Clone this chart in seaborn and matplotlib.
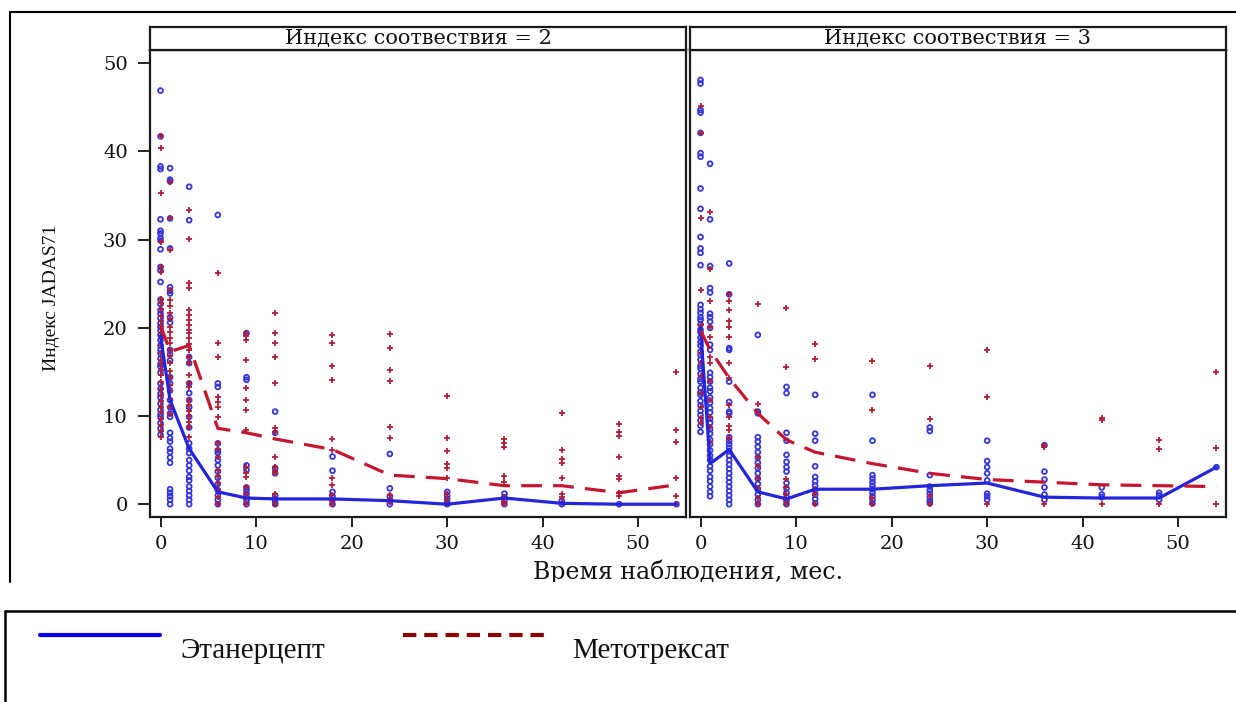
import warnings

import matplotlib

matplotlib.use("Agg")
import matplotlib.pyplot as plt
import pandas as pd
import seaborn as sns
from matplotlib.lines import Line2D
from matplotlib.transforms import Bbox

warnings.filterwarnings("ignore")

# months of follow-up (shared x positions)
times = [0, 1, 3, 6, 9, 12, 18, 24, 30, 36, 42, 48, 54]

# JADAS71 per visit, index of correspondence = 2
eta2_points = [
    [46.9, 41.7, 38.3, 38.0, 32.3, 31.0, 30.7, 30.2, 29.9, 28.9, 26.9, 26.5, 25.2, 23.2,
     22.7, 22.0, 21.6, 21.1, 20.5, 20.1, 19.7, 19.2, 18.6, 18.0, 17.5, 17.1, 16.5, 15.9,
     15.6, 14.9, 13.7, 13.1, 12.5, 12.1, 11.4, 10.7, 10.2, 9.9, 9.2, 8.6, 7.9],
    [38.1, 36.8, 36.6, 32.4, 29.0, 24.6, 24.2, 23.9, 21.2, 20.6, 17.5, 17.0, 16.3, 14.4,
     13.7, 12.9, 11.8, 11.0, 10.3, 9.9, 8.1, 7.5, 7.1, 6.3, 5.9, 5.3, 4.7, 1.7, 1.3, 0.9,
     0.5, 0.0],
    [36.0, 32.2, 16.7, 16.0, 13.7, 12.6, 11.8, 11.0, 9.9, 8.7, 6.9, 6.3, 5.8, 5.0, 4.4,
     3.8, 3.1, 2.7, 2.0, 1.5, 1.0, 0.5, 0.0],
    [32.8, 13.7, 13.3, 6.9, 6.1, 5.8, 5.0, 4.4, 3.7, 3.0, 2.3, 1.6, 1.0, 0.5, 0.0],
    [19.4, 14.4, 14.1, 4.4, 3.9, 1.9, 1.6, 1.2, 0.8, 0.4, 0.0],
    [10.5, 8.1, 4.1, 3.5, 1.0, 0.6, 0.2, 0.0],
    [5.4, 3.8, 1.4, 0.9, 0.5, 0.0],
    [5.7, 1.8, 0.9, 0.4, 0.0],
    [1.4, 1.0, 0.6, 0.2, 0.0],
    [1.2, 0.8, 0.4, 0.0],
    [0.4, 0.0],
    [0.0],
    [0.0],
]
mtx2_points = [
    [41.7, 40.4, 35.3, 29.7, 26.9, 26.3, 23.3, 22.8, 22.1, 21.3, 20.8, 20.2, 19.4, 18.8,
     18.0, 17.2, 16.4, 15.9, 15.2, 14.6, 13.9, 13.1, 12.4, 11.7, 11.0, 10.4, 9.7, 9.0, 8.3,
     7.6],
    [36.5, 32.4, 28.8, 24.3, 23.2, 22.5, 21.7, 21.0, 20.1, 19.5, 18.9, 18.3, 17.5, 16.8,
     16.0, 15.1, 14.4, 13.5, 12.8, 11.9, 11.0, 10.2],
    [33.4, 30.1, 25.1, 24.5, 22.0, 21.5, 20.9, 20.3, 19.8, 19.4, 18.8, 18.2, 17.5, 16.7,
     16.0, 14.6, 13.7, 13.3, 11.8, 11.2, 10.6, 10.0, 9.3, 8.7, 7.6],
    [26.2, 18.3, 16.7, 12.2, 11.6, 11.0, 9.9, 6.9, 6.3, 5.3, 3.9, 3.2, 2.4, 1.6, 0.8, 0.0],
    [19.4, 19.1, 18.6, 16.3, 13.2, 11.8, 10.7, 8.4, 4.2, 3.5, 3.1, 2.0, 1.2, 0.6, 0.0],
    [21.7, 19.4, 18.3, 16.7, 13.8, 8.6, 8.2, 5.4, 4.2, 3.8, 3.5, 1.2, 0.6, 0.0],
    [19.2, 18.3, 15.7, 14.1, 7.4, 6.2, 3.0, 2.2, 1.0, 0.4, 0.0],
    [19.3, 17.7, 15.2, 14.0, 8.7, 7.5, 1.0, 0.6, 0.2],
    [12.3, 7.5, 6.0, 4.6, 4.1, 3.0, 1.2, 0.6, 0.0],
    [7.4, 6.9, 6.5, 3.2, 2.5, 0.8, 0.3, 0.0],
    [10.3, 6.1, 5.1, 4.7, 3.0, 1.2, 0.8, 0.1],
    [9.1, 8.2, 7.7, 5.4, 3.2, 2.9, 1.3, 0.9],
    [15.0, 8.4, 7.1, 3.0, 0.9, 0.0],
]
eta2_mean = [19.1, 11.8, 6.3, 1.4, 0.7, 0.6, 0.6, 0.4, 0.0, 0.7, 0.1, 0.0, 0.0]
mtx2_mean = [20.3, 17.3, 18.0, 8.6, 8.1, 7.4, 6.2, 3.3, 2.9, 2.1, 2.1, 1.3, 2.2]

# JADAS71 per visit, index of correspondence = 3
eta3_points = [
    [48.1, 47.7, 44.7, 44.4, 42.1, 39.8, 39.4, 35.8, 33.5, 30.3, 29.0, 28.5, 27.1, 22.6,
     22.1, 21.7, 21.2, 20.9, 20.4, 19.8, 19.5, 18.9, 18.4, 18.0, 17.3, 16.9, 16.4, 15.7,
     15.4, 14.8, 14.2, 13.9, 13.2, 12.7, 12.4, 11.7, 11.2, 10.6, 10.1, 9.5, 8.9, 8.2],
    [38.6, 32.3, 27.0, 24.5, 24.0, 21.6, 21.2, 20.7, 20.0, 18.1, 17.5, 14.9, 14.4, 13.9,
     13.2, 12.8, 12.1, 11.5, 10.9, 10.4, 9.7, 9.2, 8.5, 8.0, 7.3, 6.8, 6.1, 5.5, 5.0, 4.3,
     3.8, 3.1, 2.6, 2.0, 1.4, 0.9],
    [27.3, 23.8, 17.7, 17.5, 13.9, 11.6, 10.5, 10.3, 7.6, 7.2, 6.8, 6.4, 6.0, 5.5, 5.0,
     4.5, 4.0, 3.5, 3.0, 2.5, 2.0, 1.5, 1.0, 0.5, 0.0],
    [19.2, 10.5, 10.3, 7.6, 7.1, 6.5, 5.9, 5.3, 4.7, 4.1, 3.5, 2.9, 2.3, 1.7, 1.1, 0.5, 0.0],
    [13.3, 12.6, 8.1, 7.2, 5.6, 4.8, 4.2, 3.7, 2.4, 1.8, 1.3, 0.8, 0.4, 0.0],
    [12.4, 8.0, 7.2, 4.3, 3.1, 2.6, 2.1, 1.6, 1.1, 0.6, 0.1],
    [12.4, 7.2, 3.3, 2.9, 2.5, 2.1, 1.7, 1.3, 0.9, 0.5, 0.1],
    [8.7, 8.3, 3.3, 2.0, 1.6, 1.2, 0.8, 0.4, 0.1],
    [7.2, 4.9, 4.2, 3.5, 2.7, 1.2, 0.9, 0.5],
    [6.7, 3.7, 2.8, 1.9, 1.1, 0.5],
    [1.9, 1.1, 0.8],
    [1.3, 1.0, 0.5],
    [4.2],
]
mtx3_points = [
    [45.2, 42.1, 32.5, 24.3, 20.3, 17.1, 16.0, 14.5, 12.6, 11.0, 9.8, 9.2],
    [33.1, 26.7, 23.0, 20.1, 19.0, 16.7, 16.0, 14.0, 11.8, 9.9, 8.8, 7.0],
    [23.8, 23.0, 22.0, 20.8, 20.1, 19.0, 16.0, 14.3, 11.2, 9.9, 8.9, 8.4, 7.5],
    [22.7, 11.4, 5.4, 4.3, 3.0, 1.8, 0.7, 0.0],
    [22.3, 15.6, 2.9, 2.0, 1.2, 0.5, 0.0],
    [18.2, 16.5, 1.7, 1.2, 0.0],
    [16.2, 10.7, 0.7, 0.0],
    [15.7, 9.7, 0.9, 0.0],
    [17.5, 12.1, 0.0],
    [6.7, 6.5, 0.0],
    [9.8, 9.6, 0.0],
    [7.3, 6.3, 0.0],
    [15.0, 6.4, 0.0],
]
eta3_mean = [20.0, 4.6, 6.2, 1.4, 0.6, 1.7, 1.7, 2.1, 2.4, 0.8, 0.7, 0.7, 4.2]
mtx3_mean = [19.7, 17.5, 14.3, 10.3, 7.3, 5.9, 4.6, 3.5, 2.8, 2.5, 2.2, 2.1, 2.0]

panel_titles = ["Индекс соотвествия = 2", "Индекс соотвествия = 3"]
drug_labels = ["Этанерцепт", "Метотрексат"]
x_ticks = [0, 10, 20, 30, 40, 50]
y_ticks = [0, 10, 20, 30, 40, 50]

BLUE_LINE = "#2424dc"
BLUE_PT = "#3434e0"
RED_PT = "#b31c38"
RED_LINE = "#c4162e"
LEGEND_RED = "#8b0000"
SERIF_WIDE = ["DejaVu Serif"]
SERIF = ["Liberation Serif", "DejaVu Serif"]

W, H = 1236, 702


def frame(points):
    rows = [(t, v) for t, col in zip(times, points) for v in col]
    return pd.DataFrame(rows, columns=["time", "value"])


def box(x0, y0, x1, y1):
    return [x0 / W, 1 - y1 / H, (x1 - x0) / W, (y1 - y0) / H]


def fig_line(fig, xs, ys, **kws):
    fig.add_artist(Line2D([x / W for x in xs], [1 - y / H for y in ys],
                          transform=fig.transFigure, **kws))


sns.set_theme(style="ticks")
plt.rcParams["font.family"] = SERIF

fig = plt.figure(figsize=(W / 100, H / 100), dpi=100)

panels = [
    (box(150, 50, 686, 517), box(150, 27, 686, 50), eta2_points, mtx2_points, eta2_mean, mtx2_mean),
    (box(690, 50, 1226, 517), box(690, 27, 1226, 50), eta3_points, mtx3_points, eta3_mean, mtx3_mean),
]

for i, (pos, head_pos, eta_pts, mtx_pts, eta_mean, mtx_mean) in enumerate(panels):
    ax = fig.add_axes(pos)
    sns.scatterplot(data=frame(eta_pts), x="time", y="value", ax=ax, marker="o", s=12,
                    facecolor="none", edgecolor=BLUE_PT, linewidth=1.3, legend=False, zorder=2)
    sns.scatterplot(data=frame(mtx_pts), x="time", y="value", ax=ax, marker="+", s=18,
                    color=RED_PT, linewidth=1.3, legend=False, zorder=3)
    sns.lineplot(x=times, y=eta_mean, ax=ax, color=BLUE_LINE, lw=2.3, errorbar=None,
                 legend=False, zorder=4)
    sns.lineplot(x=times, y=mtx_mean, ax=ax, color=RED_LINE, lw=2.3, errorbar=None,
                 linestyle=(0, (6.5, 3.5)), legend=False, zorder=4)

    ax.set_xlim(-1.1, 55)
    ax.set_ylim(-1.45, 51.5)
    ax.set_xticks(x_ticks)
    ax.set_xticklabels([str(t) for t in x_ticks], fontfamily=SERIF_WIDE, fontsize=14)
    ax.set_xlabel("")
    ax.set_ylabel("")
    ax.tick_params(axis="x", length=7, width=1.3, pad=6, colors="#111111")
    ax.set_yticks(y_ticks)
    if i == 0:
        ax.set_yticklabels([str(t) for t in y_ticks], fontfamily=SERIF_WIDE, fontsize=14)
        ax.tick_params(axis="y", length=9, width=1.3, pad=7, colors="#111111")
    else:
        ax.tick_params(axis="y", left=False, labelleft=False)
    for spine in ax.spines.values():
        spine.set_visible(True)
        spine.set_linewidth(1.6)
        spine.set_color("#1a1a1a")

    head = fig.add_axes(head_pos)
    head.set_xticks([])
    head.set_yticks([])
    for spine in head.spines.values():
        spine.set_linewidth(1.6)
        spine.set_color("#1a1a1a")
    head.text(0.5, 0.48, panel_titles[i], transform=head.transAxes, ha="center", va="center",
              fontsize=15, fontfamily=SERIF_WIDE, color="#111111")

fig.text(52 / W, 1 - 298 / H, "Индекс JADAS71", rotation=90, ha="center", va="center",
         fontsize=14, color="#111111")
xlab = fig.text(688 / W, 1 - 572 / H, "Время наблюдения, мес.", ha="center", va="center",
                fontsize=17, fontfamily=SERIF_WIDE, color="#111111")
xlab.set_clip_on(True)
xlab.set_clip_box(Bbox.from_extents(0, H - 582, W, H))

# outer frames
fig_line(fig, [10, W], [12, 12], color="black", lw=1.5)
fig_line(fig, [10, 10], [12, 582], color="black", lw=1.5)
fig_line(fig, [5, W], [611, 611], color="black", lw=1.8)
fig_line(fig, [5, 5], [611, H], color="black", lw=1.8)

# legend below the panels
fig_line(fig, [40, 160], [635, 635], color="#0000f0", lw=3)
fig_line(fig, [403, 547], [635, 635], color=LEGEND_RED, lw=3, linestyle=(0, (3.2, 1.9)))
fig.text(180 / W, 1 - 651 / H, drug_labels[0], ha="left", va="center", fontsize=21,
         color="#111111")
fig.text(572 / W, 1 - 651 / H, drug_labels[1], ha="left", va="center", fontsize=21,
         color="#111111")

fig.savefig("out.png", dpi=100, facecolor="white")
